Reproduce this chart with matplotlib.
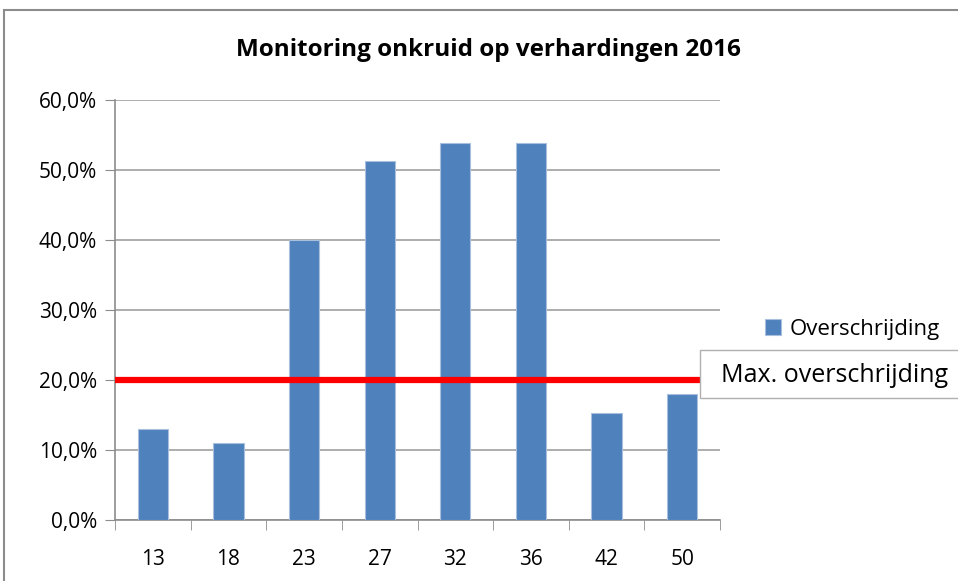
import matplotlib.pyplot as plt
from matplotlib.patches import Rectangle
import numpy as np

# data
categories = ["13", "18", "23", "27", "32", "36", "42", "50"]
overschrijding = [13.0, 11.0, 40.0, 51.3, 53.9, 53.9, 15.3, 18.0]
max_overschrijding = 20.0
y_ticks = [0, 10, 20, 30, 40, 50, 60]

plt.rcParams["font.family"] = ["Open Sans", "DejaVu Sans"]

fig = plt.figure(figsize=(9.58, 5.81), dpi=100)
W, H = 958, 581

# grey chart frame (only top and left are visible in the picture)
fig.patches.append(Rectangle((4 / W, -0.1), 1.2, (H - 10) / H + 0.1, transform=fig.transFigure,
                             facecolor="white", edgecolor="#8c8c8c", linewidth=1.5, zorder=-5))

ax = fig.add_axes([115 / W, (H - 520) / H, (720 - 115) / W, 420 / H])
ax.set_facecolor("none")

x = np.arange(len(categories))
ax.bar(x, overschrijding, width=0.4, color="#4f81bd", edgecolor="#a8c0de", linewidth=0.8,
       label="Overschrijding", zorder=3)

# red max line
ax.plot([-0.5, 7.25], [max_overschrijding] * 2, color="#ff0000", linewidth=4.5,
        solid_capstyle="butt", clip_on=False, zorder=4)

ax.set_xlim(-0.5, len(categories) - 0.5)
ax.set_ylim(0, 60)
ax.set_yticks(y_ticks)
ax.set_yticklabels([f"{v:.1f}".replace(".", ",") + "%" for v in y_ticks], fontsize=15)
ax.set_xticks(x)
ax.set_xticklabels(categories, fontsize=15)
ax.set_xticks(np.arange(-0.5, len(categories)), minor=True)
ax.tick_params(axis="x", which="major", length=0, pad=21)
ax.tick_params(axis="x", which="minor", length=7, color="#8c8c8c")
ax.tick_params(axis="y", length=7, color="#8c8c8c", pad=6)
ax.grid(axis="y", color="#a0a0a0", linewidth=1.2, zorder=0)
for s in ["top", "right"]:
    ax.spines[s].set_visible(False)
for s in ["left", "bottom"]:
    ax.spines[s].set_color("#8c8c8c")
    ax.spines[s].set_linewidth(1.2)

fig.text(488 / W, 1 - 50 / H, "Monitoring onkruid op verhardingen 2016", ha="center", va="center",
         fontsize=17.5, fontweight="bold")

ax.legend(loc="center left", bbox_to_anchor=(745 / W, 1 - 329 / H), bbox_transform=fig.transFigure,
          frameon=False, fontsize=16, handlelength=0.7, handleheight=0.7, handletextpad=0.4)

# label box for the max line, running off the right edge
fig.patches.append(Rectangle((700 / W, 1 - 398 / H), 300 / W, 48 / H, transform=fig.transFigure,
                             facecolor="white", edgecolor="#b0b0b0", linewidth=1, zorder=2))
fig.text(721 / W, 1 - 376 / H, "Max. overschrijding", ha="left", va="center", fontsize=18)

fig.savefig("out.png", dpi=100)
